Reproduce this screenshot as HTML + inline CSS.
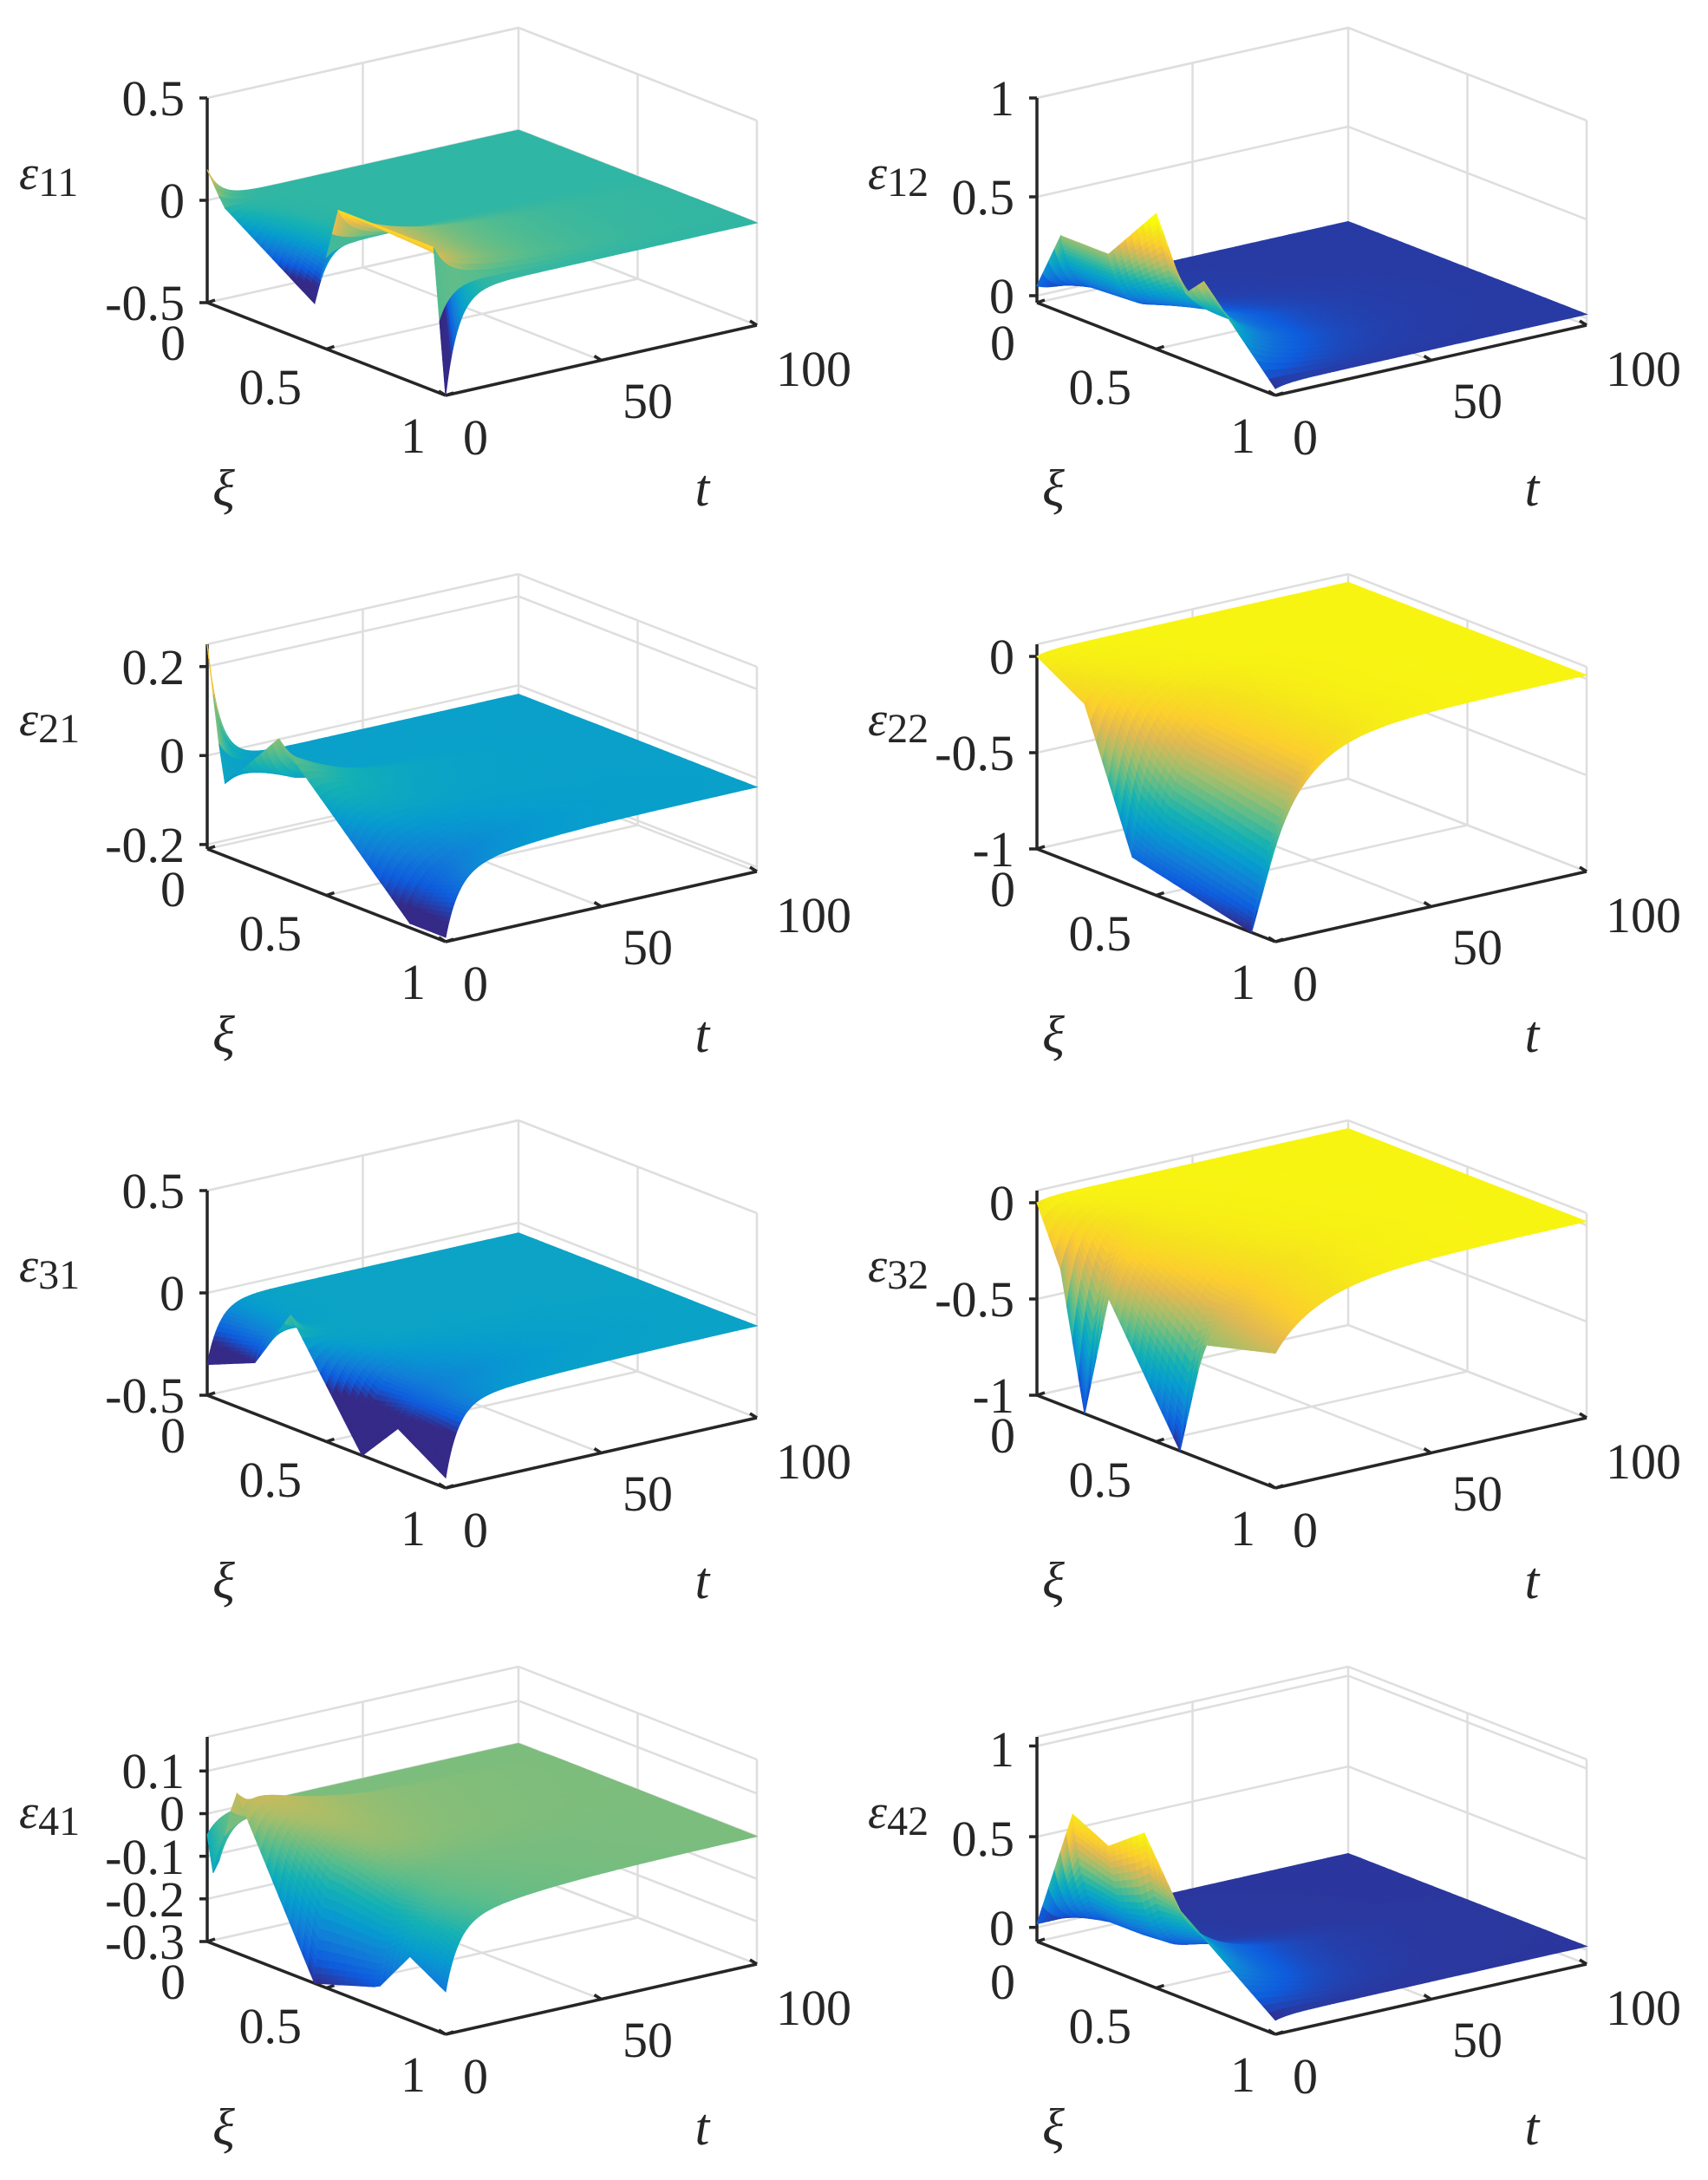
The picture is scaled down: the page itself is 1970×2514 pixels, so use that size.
<!DOCTYPE html>
<html><head><meta charset="utf-8">
<style>
html,body{margin:0;padding:0;background:#fff;}
svg{display:block;}
text{font-family:"Liberation Serif",serif;fill:#262626;}
.tk{font-size:58px;}
.lb{font-size:60px;font-style:italic;}
</style></head>
<body>
<svg id="s" xmlns="http://www.w3.org/2000/svg" width="1970" height="2514" viewBox="0 0 1970 2514">
<rect width="1970" height="2514" fill="#fff"/>
<g id="plots"></g>
<g id="texts">
<g transform="translate(0,0)">
<text class="tk" x="213" y="133" text-anchor="end">0.5</text><text class="tk" x="213" y="251" text-anchor="end">0</text><text class="tk" x="213" y="369" text-anchor="end">-0.5</text>
<text x="22" y="218"><tspan style="font-size:56px;font-style:italic">ε</tspan><tspan style="font-size:48px" dy="8">11</tspan></text>
</g>
<g transform="translate(957,0)">
<text class="tk" x="213" y="133" text-anchor="end">1</text><text class="tk" x="213" y="247" text-anchor="end">0.5</text><text class="tk" x="213" y="361" text-anchor="end">0</text>
<text x="44" y="218"><tspan style="font-size:56px;font-style:italic">ε</tspan><tspan style="font-size:48px" dy="8">12</tspan></text>
</g>
<g transform="translate(0,630)">
<text class="tk" x="213" y="159" text-anchor="end">0.2</text><text class="tk" x="213" y="261" text-anchor="end">0</text><text class="tk" x="213" y="364" text-anchor="end">-0.2</text>
<text x="22" y="218"><tspan style="font-size:56px;font-style:italic">ε</tspan><tspan style="font-size:48px" dy="8">21</tspan></text>
</g>
<g transform="translate(957,630)">
<text class="tk" x="213" y="147" text-anchor="end">0</text><text class="tk" x="213" y="258" text-anchor="end">-0.5</text><text class="tk" x="213" y="369" text-anchor="end">-1</text>
<text x="44" y="218"><tspan style="font-size:56px;font-style:italic">ε</tspan><tspan style="font-size:48px" dy="8">22</tspan></text>
</g>
<g transform="translate(0,1260)">
<text class="tk" x="213" y="133" text-anchor="end">0.5</text><text class="tk" x="213" y="251" text-anchor="end">0</text><text class="tk" x="213" y="369" text-anchor="end">-0.5</text>
<text x="22" y="218"><tspan style="font-size:56px;font-style:italic">ε</tspan><tspan style="font-size:48px" dy="8">31</tspan></text>
</g>
<g transform="translate(957,1260)">
<text class="tk" x="213" y="147" text-anchor="end">0</text><text class="tk" x="213" y="258" text-anchor="end">-0.5</text><text class="tk" x="213" y="369" text-anchor="end">-1</text>
<text x="44" y="218"><tspan style="font-size:56px;font-style:italic">ε</tspan><tspan style="font-size:48px" dy="8">32</tspan></text>
</g>
<g transform="translate(0,1890)">
<text class="tk" x="213" y="172" text-anchor="end">0.1</text><text class="tk" x="213" y="221" text-anchor="end">0</text><text class="tk" x="213" y="271" text-anchor="end">-0.1</text><text class="tk" x="213" y="320" text-anchor="end">-0.2</text><text class="tk" x="213" y="369" text-anchor="end">-0.3</text>
<text x="22" y="218"><tspan style="font-size:56px;font-style:italic">ε</tspan><tspan style="font-size:48px" dy="8">41</tspan></text>
</g>
<g transform="translate(957,1890)">
<text class="tk" x="213" y="147" text-anchor="end">1</text><text class="tk" x="213" y="250" text-anchor="end">0.5</text><text class="tk" x="213" y="353" text-anchor="end">0</text>
<text x="44" y="218"><tspan style="font-size:56px;font-style:italic">ε</tspan><tspan style="font-size:48px" dy="8">42</tspan></text>
</g>
<g transform="translate(0,0)"><text class="tk" x="214" y="415" text-anchor="end">0</text><text class="tk" x="348" y="466" text-anchor="end">0.5</text><text class="tk" x="491" y="522" text-anchor="end">1</text><text class="tk" x="534" y="524">0</text><text class="tk" x="718" y="482">50</text><text class="tk" x="895" y="445">100</text><text class="lb" x="258" y="583" text-anchor="middle">ξ</text><text class="lb" x="810" y="583" text-anchor="middle">t</text></g>
<g transform="translate(957,0)"><text class="tk" x="214" y="415" text-anchor="end">0</text><text class="tk" x="348" y="466" text-anchor="end">0.5</text><text class="tk" x="491" y="522" text-anchor="end">1</text><text class="tk" x="534" y="524">0</text><text class="tk" x="718" y="482">50</text><text class="tk" x="895" y="445">100</text><text class="lb" x="258" y="583" text-anchor="middle">ξ</text><text class="lb" x="810" y="583" text-anchor="middle">t</text></g>
<g transform="translate(0,630)"><text class="tk" x="214" y="415" text-anchor="end">0</text><text class="tk" x="348" y="466" text-anchor="end">0.5</text><text class="tk" x="491" y="522" text-anchor="end">1</text><text class="tk" x="534" y="524">0</text><text class="tk" x="718" y="482">50</text><text class="tk" x="895" y="445">100</text><text class="lb" x="258" y="583" text-anchor="middle">ξ</text><text class="lb" x="810" y="583" text-anchor="middle">t</text></g>
<g transform="translate(957,630)"><text class="tk" x="214" y="415" text-anchor="end">0</text><text class="tk" x="348" y="466" text-anchor="end">0.5</text><text class="tk" x="491" y="522" text-anchor="end">1</text><text class="tk" x="534" y="524">0</text><text class="tk" x="718" y="482">50</text><text class="tk" x="895" y="445">100</text><text class="lb" x="258" y="583" text-anchor="middle">ξ</text><text class="lb" x="810" y="583" text-anchor="middle">t</text></g>
<g transform="translate(0,1260)"><text class="tk" x="214" y="415" text-anchor="end">0</text><text class="tk" x="348" y="466" text-anchor="end">0.5</text><text class="tk" x="491" y="522" text-anchor="end">1</text><text class="tk" x="534" y="524">0</text><text class="tk" x="718" y="482">50</text><text class="tk" x="895" y="445">100</text><text class="lb" x="258" y="583" text-anchor="middle">ξ</text><text class="lb" x="810" y="583" text-anchor="middle">t</text></g>
<g transform="translate(957,1260)"><text class="tk" x="214" y="415" text-anchor="end">0</text><text class="tk" x="348" y="466" text-anchor="end">0.5</text><text class="tk" x="491" y="522" text-anchor="end">1</text><text class="tk" x="534" y="524">0</text><text class="tk" x="718" y="482">50</text><text class="tk" x="895" y="445">100</text><text class="lb" x="258" y="583" text-anchor="middle">ξ</text><text class="lb" x="810" y="583" text-anchor="middle">t</text></g>
<g transform="translate(0,1890)"><text class="tk" x="214" y="415" text-anchor="end">0</text><text class="tk" x="348" y="466" text-anchor="end">0.5</text><text class="tk" x="491" y="522" text-anchor="end">1</text><text class="tk" x="534" y="524">0</text><text class="tk" x="718" y="482">50</text><text class="tk" x="895" y="445">100</text><text class="lb" x="258" y="583" text-anchor="middle">ξ</text><text class="lb" x="810" y="583" text-anchor="middle">t</text></g>
<g transform="translate(957,1890)"><text class="tk" x="214" y="415" text-anchor="end">0</text><text class="tk" x="348" y="466" text-anchor="end">0.5</text><text class="tk" x="491" y="522" text-anchor="end">1</text><text class="tk" x="534" y="524">0</text><text class="tk" x="718" y="482">50</text><text class="tk" x="895" y="445">100</text><text class="lb" x="258" y="583" text-anchor="middle">ξ</text><text class="lb" x="810" y="583" text-anchor="middle">t</text></g>
</g>
</svg>
<script>
(function(){
var NS="http://www.w3.org/2000/svg";
var plots=document.getElementById("plots");
var P=[
{dx:0,dy:0,zr:[-0.5,0.5],ticks:[-0.5,0,0.5],s:0.0,t1:4,t2:22,cl:[-0.22,0.28],
 p:[[0,0.15],[0.07,0],[0.45,-0.3],[0.55,0.2],[0.95,0.2],[1,-0.5]],
 h:[[0,0],[0.5,0],[0.6,0.18],[0.9,0.14],[1,0]]},
{dx:957,dy:0,zr:[-0.035,1],ticks:[0,0.5,1],s:0.02,t1:4,t2:15,cl:[0,0.6],
 p:[[0,0.05],[0.1,0.35],[0.3,0.35],[0.5,0.65],[0.62,0.3],[0.7,0.4],[1,0]],
 h:[[0,0],[0.3,0.05],[0.55,0.3],[0.75,0.25],[1,0]]},
{dx:0,dy:630,zr:[-0.21,0.25],ticks:[-0.2,0,0.2],s:-0.02,t1:4,t2:18,cl:[-0.17,0.3],
 p:[[0,0.25],[0.07,-0.05],[0.15,0],[0.3,0.1],[0.85,-0.2],[1,-0.2]],
 h:[[0,0],[0.25,0],[0.35,0.1],[0.6,0.03],[0.85,-0.12],[1,-0.05]]},
{dx:957,dy:630,zr:[-1,0.063],ticks:[-1,-0.5,0],s:0.02,t1:4,t2:12,cl:[-1,0.05],
 p:[[0,0],[0.2,-0.15],[0.4,-0.85],[0.9,-1],[1,-0.5]],
 h:[[0,0],[0.3,-0.15],[0.5,-0.7],[0.9,-0.95],[1,-0.5]]},
{dx:0,dy:1260,zr:[-0.5,0.5],ticks:[-0.5,0,0.5],s:-0.05,t1:4,t2:25,cl:[-0.25,0.35],
 p:[[0,-0.35],[0.2,-0.25],[0.35,0.05],[0.65,-0.5],[0.8,-0.3],[1,-0.45]],
 h:[[0,0],[0.5,0],[0.8,-0.12],[1,-0.05]]},
{dx:957,dy:1260,zr:[-1,0.063],ticks:[-1,-0.5,0],s:0.02,t1:4,t2:15,cl:[-1,0.05],
 p:[[0,0],[0.1,-0.3],[0.2,-1],[0.3,-0.35],[0.6,-1],[0.7,-0.4],[1,-0.3]],
 h:[[0,0],[0.3,-0.15],[0.55,-0.3],[0.7,-0.5],[1,-0.3]]},
{dx:0,dy:1890,zr:[-0.3,0.18],ticks:[-0.3,-0.2,-0.1,0,0.1],s:0.0,t1:4,t2:22,cl:[-0.3,0.25],
 p:[[0,-0.05],[0.03,-0.15],[0.12,0.08],[0.45,-0.3],[0.72,-0.25],[0.85,-0.15],[1,-0.2]],
 h:[[0,0],[0.1,0],[0.15,0.1],[0.5,0.05],[0.7,-0.02],[1,-0.05]]},
{dx:957,dy:1890,zr:[-0.078,1.05],ticks:[0,0.5,1],s:0.02,t1:4,t2:15,cl:[0,0.75],
 p:[[0,0.02],[0.15,0.7],[0.3,0.6],[0.45,0.75],[0.6,0.4],[1,0]],
 h:[[0,0],[0.4,0.05],[0.55,0.35],[0.8,0.2],[1,0]]}
];
var CM=[[53,42,135],[15,92,221],[18,125,216],[7,156,207],[21,177,180],[89,189,140],[165,190,107],[225,185,82],[252,206,46],[245,227,29],[249,251,14]];
function cmap(v){v=Math.max(0,Math.min(1,v));var f=v*10,i=Math.min(9,Math.floor(f)),r=f-i;
 var a=CM[i],b=CM[i+1];return "rgb("+Math.round(a[0]+(b[0]-a[0])*r)+","+Math.round(a[1]+(b[1]-a[1])*r)+","+Math.round(a[2]+(b[2]-a[2])*r)+")";}
function interp(pts,x){for(var i=0;i<pts.length-1;i++){if(x<=pts[i+1][0]){var a=pts[i],b=pts[i+1];var r=(x-a[0])/((b[0]-a[0])||1);return a[1]+(b[1]-a[1])*r;}}return pts[pts.length-1][1];}
function el(n,at){var e=document.createElementNS(NS,n);for(var k in at)e.setAttribute(k,at[k]);return e;}
P.forEach(function(c){
 var g=el("g",{transform:"translate("+c.dx+","+c.dy+")"});plots.appendChild(g);
 var zr=c.zr;
 function pr(xi,t,z){var f=(z-zr[0])/(zr[1]-zr[0]);return [239+275*xi+3.59*t,349+107*xi-0.81*t-236*f];}
 function line(a,b,col,w){g.appendChild(el("line",{x1:a[0].toFixed(1),y1:a[1].toFixed(1),x2:b[0].toFixed(1),y2:b[1].toFixed(1),stroke:col,"stroke-width":w}));}
 var gc="#dedede",gw=2.5,z0=zr[0],z1=zr[1];
 line(pr(0.5,0,z0),pr(0.5,100,z0),gc,gw);
 line(pr(0,50,z0),pr(1,50,z0),gc,gw);
 line(pr(0,100,z0),pr(1,100,z0),gc,gw);
 line(pr(0,0,z0),pr(0,100,z0),gc,gw);
 line(pr(0,50,z0),pr(0,50,z1),gc,gw);
 line(pr(0,100,z0),pr(0,100,z1),gc,gw);
 line(pr(0.5,100,z0),pr(0.5,100,z1),gc,gw);
 line(pr(1,100,z0),pr(1,100,z1),gc,gw);
 line(pr(0,0,z1),pr(0,100,z1),gc,gw);
 line(pr(0,100,z1),pr(1,100,z1),gc,gw);
 c.ticks.forEach(function(z){line(pr(0,0,z),pr(0,100,z),gc,gw);line(pr(0,100,z),pr(1,100,z),gc,gw);});
 var ac="#262626",aw=3.5;
 line(pr(0,0,z0),pr(0,0,z1),ac,aw);
 line(pr(0,0,z0),pr(1,0,z0),ac,aw);
 line(pr(1,0,z0),pr(1,100,z0),ac,aw);
 c.ticks.forEach(function(z){var a=pr(0,0,z);line(a,[a[0]-9,a[1]],ac,aw);});
 [0,0.5,1].forEach(function(x){var a=pr(x,0,z0);line(a,[a[0]+9,a[1]-3],ac,aw);});
 [0,50,100].forEach(function(t){var a=pr(1,t,z0);line(a,[a[0]-8,a[1]-5],ac,aw);});
 var N=40,M=60,xs=[],ts=[],i,j;
 for(i=0;i<=N;i++)xs.push(i/N);
 for(j=0;j<=M;j++)ts.push(100*Math.pow(j/M,2));
 function f(x,t){var pv=interp(c.p,x),hv=interp(c.h,x);
  return c.s+(pv-c.s-hv)*Math.exp(-t/c.t1)+hv*Math.exp(-t/c.t2);}
 var Z=[];for(i=0;i<=N;i++){Z.push([]);for(j=0;j<=M;j++)Z[i].push(f(xs[i],ts[j]));}
 var quads=[];
 for(i=0;i<N;i++)for(j=0;j<M;j++){
  var zz=(Z[i][j]+Z[i+1][j]+Z[i][j+1]+Z[i+1][j+1])/4;
  var depth=(xs[i]+xs[i+1])/2-(ts[j]+ts[j+1])/200;
  quads.push([depth,i,j,zz]);}
 quads.sort(function(a,b){return a[0]-b[0];});
 var sg=el("g",{});g.appendChild(sg);
 quads.forEach(function(q){var i=q[1],j=q[2];
  var a=pr(xs[i],ts[j],Z[i][j]),b=pr(xs[i+1],ts[j],Z[i+1][j]),d=pr(xs[i+1],ts[j+1],Z[i+1][j+1]),e=pr(xs[i],ts[j+1],Z[i][j+1]);
  var col=cmap((q[3]-c.cl[0])/(c.cl[1]-c.cl[0]));
  sg.appendChild(el("path",{d:"M"+a[0].toFixed(1)+" "+a[1].toFixed(1)+"L"+b[0].toFixed(1)+" "+b[1].toFixed(1)+"L"+d[0].toFixed(1)+" "+d[1].toFixed(1)+"L"+e[0].toFixed(1)+" "+e[1].toFixed(1)+"Z",fill:col,stroke:col,"stroke-width":"1"}));
 });
});
})();
</script>
</body></html>
